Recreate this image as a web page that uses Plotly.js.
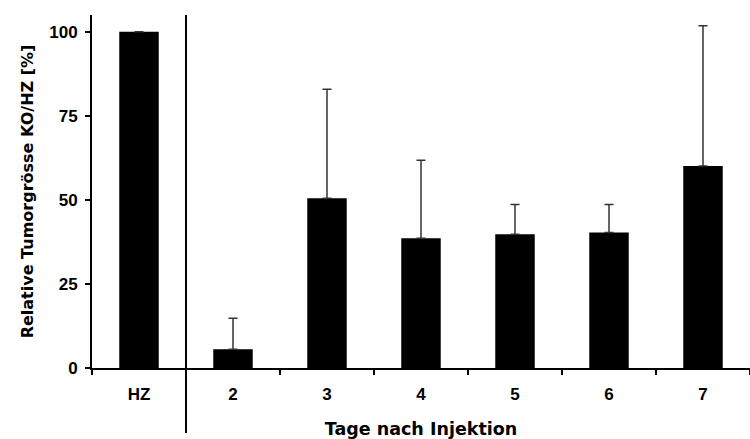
<!DOCTYPE html>
<html>
<head>
<meta charset="utf-8">
<script src="https://cdn.plot.ly/plotly-3.0.1.min.js"></script>
<style>html,body{margin:0;padding:0;background:#fff;}#chart{width:750px;height:439px;}</style>
</head>
<body>
<div id="chart"></div>
<script>
const categories = ["HZ", "2", "3", "4", "5", "6", "7"];
const values = [100, 5.6, 50.5, 38.6, 39.8, 40.3, 60.1];
const errorsPlus = [0, 9.2, 32.4, 23.2, 8.8, 8.3, 41.7];
const yTicks = [0, 25, 50, 75, 100];

const trace = {
  type: "bar",
  x: categories,
  y: values,
  width: 0.42,
  marker: {color: "#000000", line: {color: "#000000", width: 0}},
  error_y: {type: "data", array: errorsPlus, symmetric: false, arrayminus: errorsPlus.map(() => 0),
            color: "#333333", thickness: 1.5, width: 4.5},
  hoverinfo: "skip"
};

const tickFont = {family: "Liberation Sans, Arial, sans-serif", size: 17, weight: "bold", color: "#000"};
const yTitleFont = {family: "DejaVu Sans, sans-serif", size: 16, weight: "bold", color: "#000"};
const xTitleFont = {family: "DejaVu Sans, sans-serif", size: 17.5, weight: "bold", color: "#000"};

const layout = {
  width: 750, height: 439,
  margin: {l: 92, r: 0, t: 15, b: 71},
  paper_bgcolor: "#ffffff", plot_bgcolor: "#ffffff",
  showlegend: false,
  font: {family: "Liberation Sans, Arial, sans-serif", color: "#000"},
  xaxis: {
    type: "category",
    range: [-0.5, 6.5],
    showline: true, linecolor: "#000", linewidth: 2,
    ticks: "outside", tickson: "boundaries", ticklen: 5, tickwidth: 2, tickcolor: "#000",
    ticklabelstandoff: 10,
    showgrid: false, zeroline: false,
    tickfont: tickFont,
    title: {text: "Tage nach Injektion", font: xTitleFont, standoff: 21}
  },
  yaxis: {
    range: [0, 105],
    tickvals: yTicks,
    showline: true, linecolor: "#000", linewidth: 2,
    ticks: "outside", ticklen: 5, tickwidth: 2, tickcolor: "#000",
    ticklabelstandoff: 4,
    showgrid: false, zeroline: false,
    tickfont: tickFont,
    title: {text: "Relative Tumorgrösse KO/HZ [%]", font: yTitleFont, standoff: 12}
  },
  shapes: [{
    type: "line", xref: "x", yref: "paper",
    x0: 0.5, x1: 0.5, y0: -0.184, y1: 1,
    line: {color: "#000", width: 2}
  }]
};

Plotly.newPlot("chart", [trace], layout, {displayModeBar: false, staticPlot: true});
</script>
</body>
</html>
